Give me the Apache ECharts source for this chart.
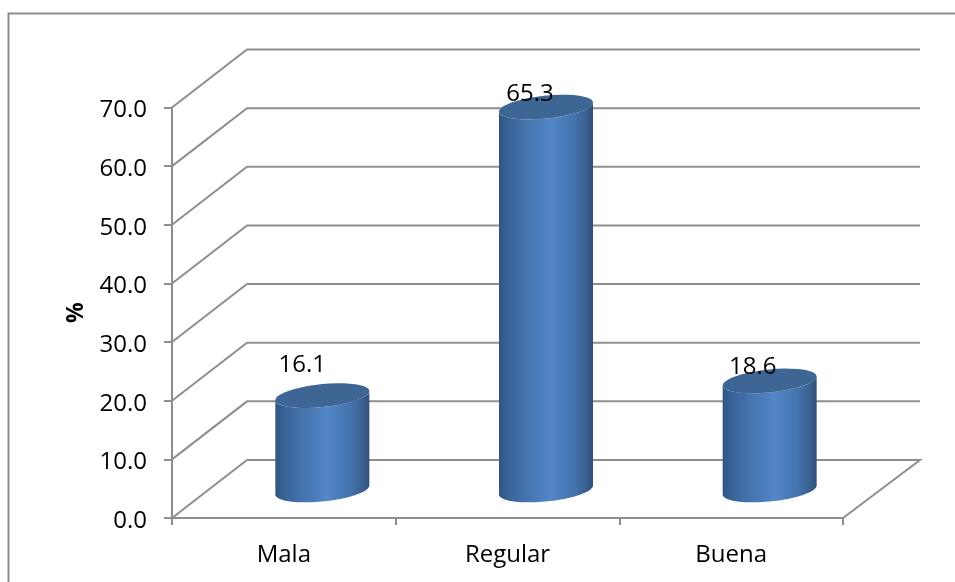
<!DOCTYPE html>
<html>
<head>
<meta charset="utf-8">
<style>html,body{margin:0;padding:0;background:#fff}#chart{width:955px;height:582px}</style>
<script src="https://cdn.jsdelivr.net/npm/echarts@6/dist/echarts.min.js"></script>
</head>
<body>
<div id="chart"></div>
<script>
// Survey result shares
const categories = ['Mala', 'Regular', 'Buena'];
const percentages = [16.1, 65.3, 18.6];
const valueTicks = [0, 10, 20, 30, 40, 50, 60, 70];
const axisTitle = '%';

// Label shift relative to each cylinder's top centre
const labelShiftX = [-20, -16, -17];
const labelShiftY = [-30, -13, -14];

// Oblique projection of the chart's depth
const depthX = 75;
const depthY = -58;
const wallExtra = 2;
const radiusX = 47;
const radiusY = 11.5;
const skew = -0.096;

const GRID_COLOR = '#8e8e8e';
const FONT = '"Open Sans", "Noto Sans", sans-serif';

// Outline of one half of a skewed ellipse, from angle a0 to a1
function arc(cx, cy, a0, a1) {
  const pts = [];
  const n = 40;
  for (let i = 0; i <= n; i++) {
    const a = a0 + (a1 - a0) * i / n;
    const dx = radiusX * Math.cos(a);
    pts.push([cx + dx, cy + radiusY * Math.sin(a) + skew * dx]);
  }
  return pts;
}

const bodyFill = new echarts.graphic.LinearGradient(0, 0, 1, 0, [
  { offset: 0, color: '#2f5582' },
  { offset: 0.12, color: '#3b659b' },
  { offset: 0.3, color: '#4674ae' },
  { offset: 0.55, color: '#5286c8' },
  { offset: 0.8, color: '#4473ad' },
  { offset: 0.93, color: '#3a6090' },
  { offset: 1, color: '#2f4f78' }
]);

function renderWall(params, api) {
  const cs = params.coordSys;
  const p = api.coord([0, api.value(1)]);
  const left = cs.x;
  const right = cs.x + cs.width;
  const pts = [[left, p[1]], [left + depthX, p[1] + depthY], [right + depthX + wallExtra, p[1] + depthY]];
  // The floor also closes on the right-hand side
  if (api.value(1) === 0) pts.push([right, p[1]]);
  return {
    type: 'polyline',
    shape: { points: pts },
    style: { fill: null, stroke: GRID_COLOR, lineWidth: 2 },
    silent: true
  };
}

function renderCylinder(params, api) {
  const i = api.value(0);
  const v = api.value(1);
  const base = api.coord([i, 0]);
  const top = api.coord([i, v]);
  const shiftX = depthX / 2 + 1;
  const shiftY = depthY / 2 + 1;
  const cx = base[0] + shiftX;
  const by = base[1] + shiftY;
  const ty = top[1] + shiftY;
  const body = arc(cx, by, Math.PI, 0).concat(arc(cx, ty, 0, Math.PI));
  return {
    type: 'group',
    children: [
      {
        type: 'polygon',
        shape: { points: body },
        style: { fill: bodyFill }
      },
      {
        type: 'polygon',
        shape: { points: arc(cx, ty, 0, Math.PI * 2) },
        style: { fill: '#3e6694' }
      },
      {
        type: 'text',
        x: cx + labelShiftX[i],
        y: ty + labelShiftY[i],
        style: {
          text: String(v),
          font: '24px ' + FONT,
          fill: '#000',
          align: 'center',
          verticalAlign: 'middle'
        }
      }
    ]
  };
}

const chart = echarts.init(document.getElementById('chart'), null, { renderer: 'canvas' });
chart.setOption({
  animation: false,
  backgroundColor: '#fff',
  grid: { left: 172, top: 107.5, width: 671, height: 410.5 },
  graphic: [{
    type: 'polyline',
    silent: true,
    shape: { points: [[8.5, 582], [8.5, 13.5], [955, 13.5]] },
    style: { fill: null, stroke: GRID_COLOR, lineWidth: 2 }
  }],
  xAxis: {
    type: 'category',
    data: categories,
    boundaryGap: true,
    axisLine: { lineStyle: { color: GRID_COLOR, width: 2 } },
    axisTick: { show: true, length: 7, alignWithLabel: false, lineStyle: { color: GRID_COLOR, width: 2 } },
    axisLabel: { color: '#000', fontFamily: FONT, fontSize: 24, margin: 25 }
  },
  yAxis: {
    type: 'value',
    min: 0,
    max: 70,
    interval: 10,
    name: axisTitle,
    nameLocation: 'middle',
    nameGap: 84,
    nameRotate: 90,
    nameTextStyle: { color: '#000', fontFamily: FONT, fontSize: 23, fontWeight: 'bold' },
    axisLine: { show: true, lineStyle: { color: GRID_COLOR, width: 2 } },
    axisTick: { show: true, length: 8, lineStyle: { color: GRID_COLOR, width: 2 } },
    splitLine: { show: false },
    axisLabel: { color: '#000', fontFamily: FONT, fontSize: 24, margin: 25, verticalAlign: 'top', lineHeight: 6, formatter: (v) => v.toFixed(1) }
  },
  series: [
    {
      type: 'custom',
      name: 'walls',
      z: 1,
      clip: false,
      renderItem: renderWall,
      data: valueTicks.map((t) => [0, t])
    },
    {
      type: 'custom',
      name: '%',
      z: 5,
      clip: false,
      renderItem: renderCylinder,
      data: percentages.map((v, i) => [i, v])
    }
  ]
});
</script>
</body>
</html>
